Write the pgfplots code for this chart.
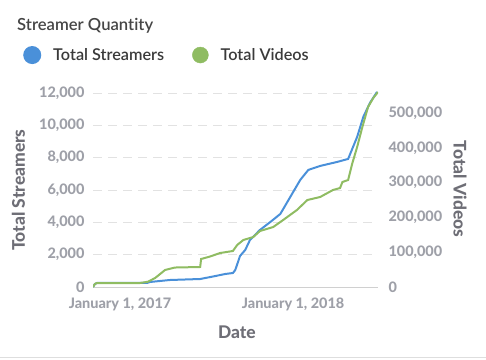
\documentclass[border=0pt]{standalone}
\usepackage{fontspec}
\setmainfont{Lato}
\IfFontExistsTF{Lato Semibold}{\newfontfamily\latosb{Lato Semibold}[Ligatures={NoCommon,NoRare,NoContextual}]}{%
  \IfFontExistsTF{Lato Medium}{\newfontfamily\latosb{Lato Medium}[Ligatures={NoCommon,NoRare,NoContextual}]}{\newfontfamily\latosb{Lato}}}
\IfFontExistsTF{Lato Heavy}{\newfontfamily\latoh{Lato Heavy}}{%
  \IfFontExistsTF{Lato Black}{\newfontfamily\latoh{Lato Black}}{\newfontfamily\latoh{Lato}[UprightFont=*-Bold]}}
\usepackage{pgfplots}
\pgfplotsset{compat=1.18}
\definecolor{sblue}{HTML}{4A90D9}
\definecolor{sgreen}{HTML}{8FBC62}
\definecolor{ticklab}{HTML}{9EA0A8}
\definecolor{axlab}{HTML}{6E6E76}
\definecolor{titlec}{HTML}{454545}
\definecolor{legtext}{HTML}{3A3A3A}
\definecolor{gridc}{HTML}{E2E2E2}
\definecolor{axisc}{HTML}{D0D0D0}
\newcommand{\tlfont}{\latoh\fontsize{14.5}{17}\selectfont}
\pgfplotsset{
  common/.style={
    at={(93bp,72bp)}, anchor=south west, scale only axis,
    width=285bp, height=196.4bp,
    xmin=-57, xmax=544,
    major tick length=0pt,
    /pgf/number format/fixed,
    /pgf/number format/precision=0,
    /pgf/number format/assume math mode=true,
    /pgf/number format/1000 sep={,},
    scaled y ticks=false,
    label style={font=\latoh\fontsize{17.5}{20}\selectfont, text=axlab},
  }
}
\begin{document}
\begin{tikzpicture}[x=1bp,y=1bp]
\path[use as bounding box] (0,0) rectangle (486,359);
\draw[axisc!70, line width=1bp] (0,2) -- (486,2);
\node[anchor=base west, font=\latosb\fontsize{16.7}{19}\selectfont, text=titlec, inner sep=0] at (17,329) {Streamer Quantity};
\begin{axis}[common,
  ymin=0, ymax=12150,
  axis x line*=bottom, axis y line*=left,
  y axis line style={draw=none},
  x axis line style={draw=axisc, line width=1bp},
  ytick={0,2000,4000,6000,8000,10000,12000},
  xtick={0,365},
  xticklabels={January 1{,} 2017, January 1{,} 2018},
  xticklabel style={yshift=-7bp, font=\tlfont, text=ticklab},
  yticklabel style={xshift=-5bp, font=\tlfont, text=ticklab},
  ymajorgrids,
  major grid style={gridc, line width=1bp, dash pattern=on 9bp off 6bp},
  xlabel={Date}, ylabel={Total Streamers},
  xlabel style={at={(axis description cs:0.505,-0.229)}, anchor=center},
  ylabel style={at={(axis description cs:-0.262,0.494)}, anchor=center},
  legend columns=2,
  legend style={at={(axis description cs:-0.256,1.181)}, anchor=west, draw=none, fill=none,
    font=\latosb\fontsize{16.3}{19}\selectfont, text=legtext,
    /tikz/every even column/.append style={column sep=26bp}},
  legend image code/.code={\fill[#1] (0bp,0bp) circle (8bp); \path (18bp,0bp);},
]
\addplot[color=sblue, line width=2bp] coordinates {
(-57,0) (-53,186) (-49,248) (57,248) (63,310) (105,433) (169,495) (194,638)
(222,805) (238,867) (243,1052) (253,1919) (264,2290) (274,2909) (295,3528)
(317,4024) (338,4519) (359,5571) (380,6623) (397,7242) (422,7490) (458,7738)
(481,7923) (500,9285) (513,10523) (527,11390) (542,12070)
};
\addlegendentry{Total Streamers}
\addlegendimage{color=sgreen}
\addlegendentry{Total Videos}
\end{axis}
\begin{axis}[common,
  ymin=0, ymax=564500,
  axis x line=none, axis y line*=right,
  y axis line style={draw=none},
  ytick={0,100000,200000,300000,400000,500000},
  yticklabel style={xshift=7bp, font=\tlfont, text=ticklab},
  ylabel={Total Videos},
  ylabel style={at={(axis description cs:1.288,0.499)}, anchor=center, rotate=180},
]
\addplot[color=sgreen, line width=2bp] coordinates {
(-57,0) (-53,8600) (-49,11500) (42,11500) (59,15200) (74,25900) (95,48900)
(116,56000) (169,57500) (171,80500) (190,87700) (211,97700) (238,103500)
(247,120700) (260,135100) (281,143700) (295,160900) (323,172400) (344,192600)
(373,221300) (395,250000) (422,258700) (449,278800) (464,284500) (469,301800)
(481,307500) (490,356400) (500,402400) (511,459800) (523,517300) (534,543200)
(544,560400)
};
\end{axis}
\end{tikzpicture}
\end{document}
